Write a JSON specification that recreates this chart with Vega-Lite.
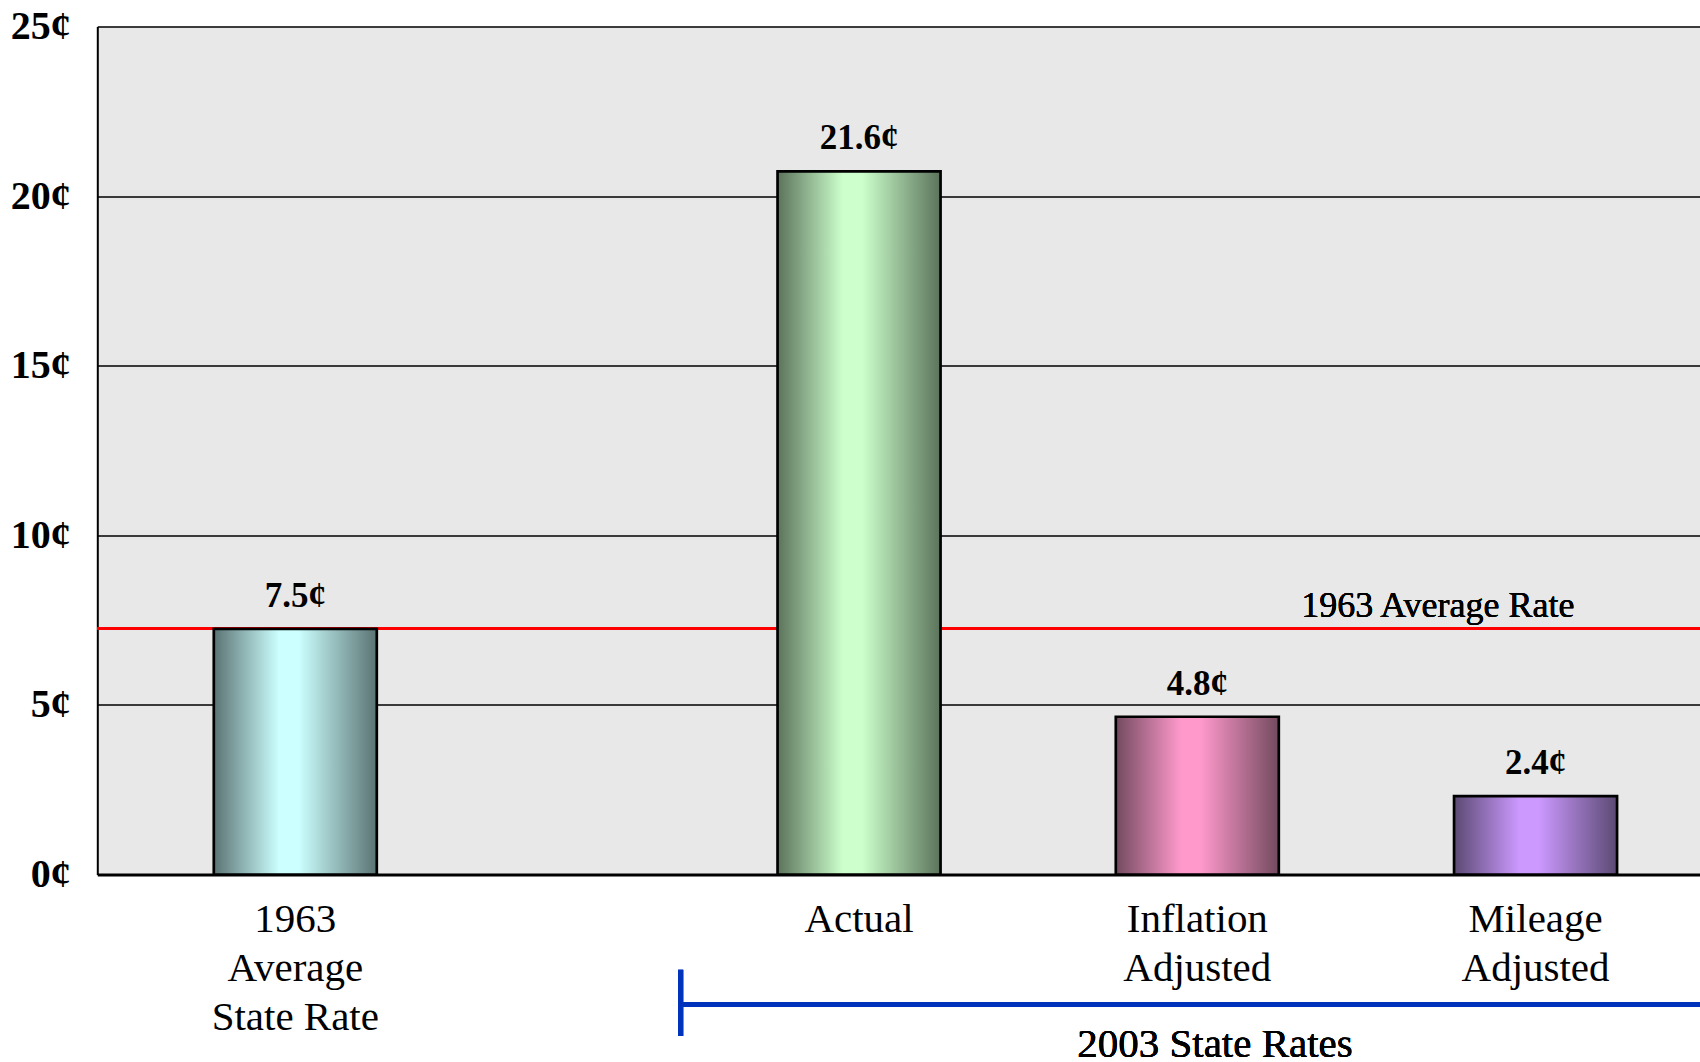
{
  "$schema": "https://vega.github.io/schema/vega-lite/v6.json",
  "autosize": {"type": "none"},
  "padding": {"left": 97.3, "top": 26.5, "right": 0, "bottom": 187.5},
  "width": 1749,
  "height": 848,
  "background": "white",
  "config": {
    "font": "Liberation Serif",
    "view": {"fill": "#e8e8e8", "stroke": null}
  },
  "data": {
    "values": [
      {"category": "1963 Average State Rate", "value": 7.24, "label": "7.5¢"},
      {"category": "Actual", "value": 20.73, "label": "21.6¢"},
      {"category": "Inflation Adjusted", "value": 4.65, "label": "4.8¢"},
      {"category": "Mileage Adjusted", "value": 2.31, "label": "2.4¢"}
    ]
  },
  "encoding": {
    "x": {
      "field": "category",
      "type": "nominal",
      "scale": {
        "type": "band",
        "domain": ["_0", "1963 Average State Rate", "_1", "_2", "_3", "_4", "Actual", "_5", "_6", "Inflation Adjusted", "_7", "_8", "Mileage Adjusted", "_9", "_10"],
        "paddingInner": 0,
        "paddingOuter": 0.256
      },
      "axis": {
        "title": null,
        "orient": "bottom",
        "ticks": false,
        "tickSize": 0,
        "grid": false,
        "domain": true,
        "domainColor": "black",
        "domainWidth": 3,
        "labelAngle": 0,
        "labelFont": "Liberation Serif",
        "labelFontSize": 41,
        "labelColor": "black",
        "labelBaseline": "alphabetic",
        "labelPadding": 57,
        "labelLineHeight": 49,
        "labelOverlap": false,
        "labelBound": false,
        "labelFlush": false,
        "labelExpr": "indexof(datum.label, '_') == 0 ? '' : (datum.label == '1963 Average State Rate' ? ['1963', 'Average', 'State Rate'] : split(datum.label, ' '))"
      }
    },
    "y": {
      "field": "value",
      "type": "quantitative",
      "scale": {"domain": [0, 25], "nice": false, "zero": true},
      "axis": {
        "title": null,
        "values": [0, 5, 10, 15, 20, 25],
        "ticks": false,
        "tickSize": 0,
        "grid": true,
        "gridColor": "black",
        "gridWidth": 1.5,
        "gridOpacity": 1,
        "domain": true,
        "domainColor": "black",
        "domainWidth": 2,
        "labelFont": "Liberation Serif",
        "labelFontSize": 40,
        "labelFontWeight": "bold",
        "labelColor": "black",
        "labelPadding": 27,
        "labelBaseline": "middle",
        "labelBound": false,
        "labelFlush": false,
        "labelOverlap": false,
        "labelExpr": "datum.value + '¢'"
      }
    }
  },
  "layer": [
    {
      "mark": {"type": "rule", "color": "#ff0000", "strokeWidth": 3},
      "encoding": {
        "x": null,
        "y": {"datum": 7.25, "type": "quantitative"}
      }
    },
    {
      "transform": [{"filter": "datum.category == '1963 Average State Rate'"}],
      "mark": {
        "type": "bar", "width": 163, "stroke": "black", "strokeWidth": 2.7,
        "fill": {"gradient": "linear", "x1": 0, "y1": 0, "x2": 1, "y2": 0,
          "stops": [
            {"offset": 0, "color": "#5b7373"},
            {"offset": 0.4, "color": "#ccffff"},
            {"offset": 0.52, "color": "#ccffff"},
            {"offset": 1, "color": "#5b7373"}
          ]}
      }
    },
    {
      "transform": [{"filter": "datum.category == 'Actual'"}],
      "mark": {
        "type": "bar", "width": 163, "stroke": "black", "strokeWidth": 2.7,
        "fill": {"gradient": "linear", "x1": 0, "y1": 0, "x2": 1, "y2": 0,
          "stops": [
            {"offset": 0, "color": "#5b735b"},
            {"offset": 0.4, "color": "#ccffcc"},
            {"offset": 0.52, "color": "#ccffcc"},
            {"offset": 1, "color": "#5b735b"}
          ]}
      }
    },
    {
      "transform": [{"filter": "datum.category == 'Inflation Adjusted'"}],
      "mark": {
        "type": "bar", "width": 163, "stroke": "black", "strokeWidth": 2.7,
        "fill": {"gradient": "linear", "x1": 0, "y1": 0, "x2": 1, "y2": 0,
          "stops": [
            {"offset": 0, "color": "#734a5f"},
            {"offset": 0.4, "color": "#ff99cc"},
            {"offset": 0.52, "color": "#ff99cc"},
            {"offset": 1, "color": "#734a5f"}
          ]}
      }
    },
    {
      "transform": [{"filter": "datum.category == 'Mileage Adjusted'"}],
      "mark": {
        "type": "bar", "width": 163, "stroke": "black", "strokeWidth": 2.7,
        "fill": {"gradient": "linear", "x1": 0, "y1": 0, "x2": 1, "y2": 0,
          "stops": [
            {"offset": 0, "color": "#5b4a73"},
            {"offset": 0.4, "color": "#cc99ff"},
            {"offset": 0.52, "color": "#cc99ff"},
            {"offset": 1, "color": "#5b4a73"}
          ]}
      }
    },
    {
      "mark": {"type": "text", "font": "Liberation Serif", "fontSize": 35, "fontWeight": "bold", "color": "black", "baseline": "alphabetic", "align": "center", "dy": -22},
      "encoding": {"text": {"field": "label"}}
    },
    {
      "mark": {"type": "text", "font": "Liberation Serif", "fontSize": 36, "color": "black", "baseline": "alphabetic", "align": "center"},
      "encoding": {
        "x": {"datum": "_8", "type": "nominal", "bandPosition": 0.633},
        "y": {"datum": 7.6, "type": "quantitative"},
        "text": {"value": "1963 Average Rate"}
      }
    },
    {
      "mark": {"type": "rule", "color": "#0033bb", "strokeWidth": 5},
      "encoding": {
        "x": {"datum": "_3", "type": "nominal", "bandPosition": 0.918},
        "y": {"datum": -2.81, "type": "quantitative"},
        "y2": {"datum": -4.76}
      }
    },
    {
      "mark": {"type": "rule", "color": "#0033bb", "strokeWidth": 5},
      "encoding": {
        "x": {"datum": "_3", "type": "nominal", "bandPosition": 0.918},
        "x2": {"datum": "_10"},
        "y": {"datum": -3.83, "type": "quantitative"}
      }
    },
    {
      "mark": {"type": "text", "font": "Liberation Serif", "fontSize": 41, "color": "black", "baseline": "alphabetic", "align": "center"},
      "encoding": {
        "x": {"datum": "Inflation Adjusted", "type": "nominal", "bandPosition": 0.657},
        "y": {"datum": -5.38, "type": "quantitative"},
        "text": {"value": "2003 State Rates"}
      }
    }
  ]
}
